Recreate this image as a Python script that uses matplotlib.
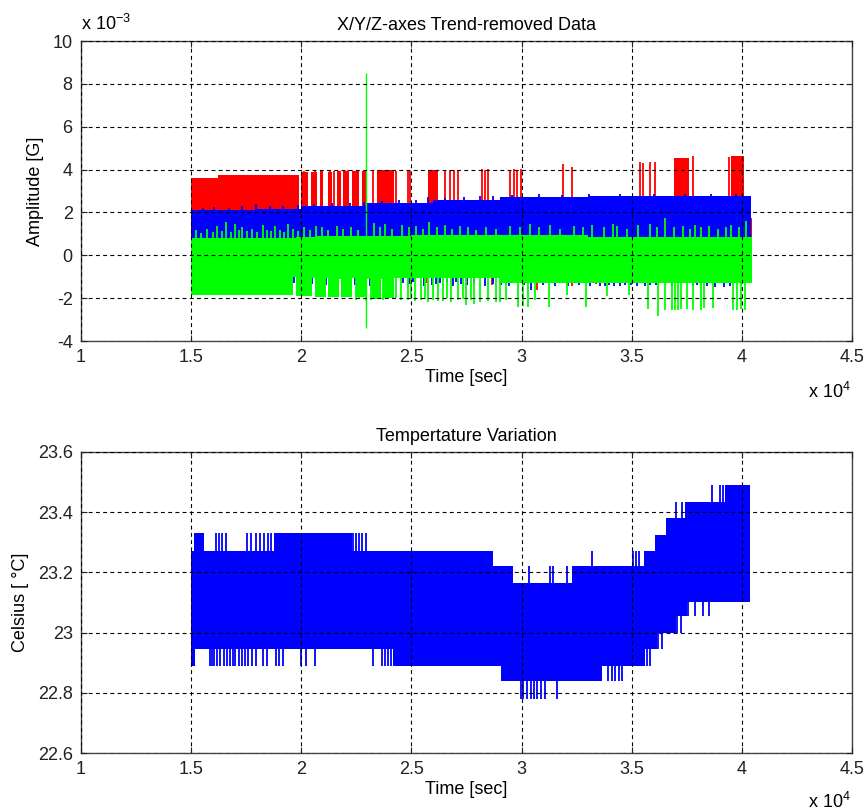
import numpy as np
import matplotlib.pyplot as plt

plt.rcParams['font.family'] = ['Liberation Sans', 'DejaVu Sans']
plt.rcParams['mathtext.default'] = 'regular'

# time in units of 1e4 sec, amplitude in units of 1e-3 G

# X axis (red) dense band: step edges and levels
x_edges = [1.50, 1.62, 1.99, 2.00, 2.03, 2.045, 2.07, 2.085, 2.10, 2.12, 2.14,
           2.16, 2.18, 2.19, 2.215, 2.23, 2.26, 2.275, 2.30, 2.345, 2.42, 2.575,
           2.62, 3.69, 3.76, 3.95, 4.01, 4.045]
x_lo = [-1.0] * 27
x_hi = [3.62, 3.75, 1.75, 3.88, 1.75, 3.90, 1.75, 3.92, 1.75, 3.90, 1.75,
        3.93, 1.75, 3.95, 1.75, 3.95, 1.75, 3.92, 1.75, 3.97, 1.75, 4.00,
        1.75, 4.55, 1.75, 4.65, 1.75]
# red spikes above the band
x_spike_t = [2.012, 2.049, 2.062, 2.094, 2.130, 2.149, 2.167, 2.212, 2.253, 2.289,
             2.325, 2.430, 2.484, 2.494, 2.652, 2.675, 2.693, 2.711, 2.820, 2.834,
             2.848, 2.948, 2.966, 2.979, 2.997, 3.188, 3.229, 3.538, 3.551, 3.583,
             3.606, 3.778, 3.940]
x_spike_v = [3.92, 3.90, 3.95, 3.96, 3.97, 3.95, 3.93, 3.98, 3.97, 3.96,
             3.98, 3.94, 3.98, 3.95, 3.95, 3.99, 3.97, 3.94, 4.03, 3.98,
             4.02, 3.99, 4.03, 4.00, 4.05, 4.26, 4.13, 4.37, 4.33, 4.37,
             4.37, 4.64, 4.60]
# red bits below the green band
x_dspike_t = [2.494, 2.571, 2.866, 3.070, 3.229, 3.338]
x_dspike_v = [-1.35, -1.30, -1.40, -1.60, -1.45, -1.35]

# Y axis (blue)
y_edges = [1.50, 1.80, 2.00, 2.30, 2.60, 2.90, 3.30, 4.04]
y_lo = [-1.0, -1.0, -1.0, -1.0, -1.0, -1.0, -1.0]
y_hi = [2.10, 2.15, 2.30, 2.45, 2.60, 2.72, 2.78]
y_spike_t = [1.553, 1.604, 1.672, 1.731, 1.794, 1.858, 1.917, 1.985, 2.058, 2.140,
             2.221, 2.285, 2.366, 2.443, 2.521, 2.575, 2.652, 2.738, 2.811, 2.870,
             2.957, 3.079, 3.184, 3.306, 3.447, 3.601, 3.742, 3.860, 3.974]
y_spike_v = [2.20, 2.25, 2.22, 2.30, 2.40, 2.28, 2.32, 2.35, 2.40, 2.42,
             2.45, 2.50, 2.55, 2.58, 2.60, 2.70, 2.68, 2.72, 2.75, 2.75,
             2.80, 2.85, 2.82, 2.88, 2.85, 2.86, 2.84, 2.85, 2.85]
y_dspike_t = [1.967, 2.049, 2.113, 2.140, 2.158, 2.212, 2.244, 2.276, 2.312, 2.335,
              2.403, 2.416, 2.489, 2.557, 2.593, 2.629, 2.689, 2.725, 2.752, 2.784,
              2.834, 2.870, 2.906, 2.943, 2.984, 3.043, 3.097, 3.356, 3.397, 3.447,
              3.497, 3.560, 3.583, 3.778, 3.797, 3.919, 3.946, 2.461, 2.507, 2.611,
              2.661, 2.702, 2.929, 3.011, 3.152, 3.211, 3.261, 3.310, 3.378, 3.420,
              3.470, 3.524, 3.610, 3.683, 3.842, 3.880]
y_dspike_v = [-1.30, -1.35, -1.40, -1.30, -1.45, -1.35, -1.40, -1.30, -1.45, -1.35,
              -1.40, -1.30, -1.35, -1.45, -1.40, -1.30, -1.45, -1.35, -1.40, -1.30,
              -1.45, -1.35, -1.40, -1.45, -1.30, -1.60, -1.40, -1.45, -1.40, -1.45,
              -1.40, -1.45, -1.40, -1.45, -1.40, -1.50, -1.45, -1.30, -1.25, -1.35,
              -1.30, -1.25, -1.35, -1.40, -1.45, -1.45, -1.40, -1.45, -1.45, -1.45,
              -1.40, -1.45, -1.40, -1.45, -1.45, -1.50]

# Z axis (green)
z_edges = [1.50, 1.963, 1.975, 2.05, 2.06, 2.11, 2.12, 2.17, 2.18, 2.23, 2.25,
           2.30, 2.32, 2.36, 2.37, 2.42, 2.50, 2.90, 3.30, 4.045]
z_lo = [-1.85, -1.0, -1.9, -1.05, -1.95, -1.05, -1.95, -1.1, -1.95, -1.05, -1.95,
        -1.1, -2.05, -1.1, -2.0, -1.05, -1.05, -1.3, -1.3]
z_hi = [0.80, 0.80, 0.85, 0.85, 0.90, 0.90, 0.90, 0.90, 0.90, 0.90, 0.90,
        0.90, 0.90, 0.90, 0.90, 0.90, 0.95, 0.95, 0.85]
z_spike_t = [1.522, 1.545, 1.572, 1.599, 1.617, 1.640, 1.658, 1.681, 1.699, 1.717,
             1.731, 1.754, 1.776, 1.799, 1.826, 1.845, 1.863, 1.881, 1.904, 1.922,
             1.940, 1.963, 1.985, 2.012, 2.040, 2.067, 2.094, 2.121, 2.162, 2.190,
             2.226, 2.258, 2.330, 2.357, 2.380, 2.412, 2.457, 2.489, 2.520, 2.552,
             2.580, 2.616, 2.652, 2.684, 2.720, 2.757, 2.793, 2.838, 2.884, 2.946,
             2.993, 3.036, 3.079, 3.129, 3.175, 3.238, 3.279, 3.320, 3.372, 3.416,
             3.434, 3.479, 3.529, 3.583, 3.615, 3.651, 3.692, 3.733, 3.765, 3.787,
             3.815, 3.851, 3.892, 3.928, 3.951, 3.987, 4.019]
z_spike_v = [1.20, 1.05, 1.25, 1.10, 1.35, 1.15, 1.55, 1.10, 1.45, 1.20,
             1.30, 1.15, 1.25, 1.10, 1.40, 1.20, 1.15, 1.35, 1.20, 1.10,
             1.45, 1.25, 1.15, 1.30, 1.20, 1.35, 1.30, 1.20, 1.35, 1.25,
             1.30, 1.20, 1.50, 1.30, 1.45, 1.25, 1.40, 1.30, 1.35, 1.25,
             1.55, 1.30, 1.40, 1.25, 1.35, 1.30, 1.20, 1.30, 1.25, 1.35,
             1.30, 1.45, 1.30, 1.40, 1.25, 1.35, 1.30, 1.40, 1.30, 1.45,
             1.35, 1.25, 1.40, 1.45, 1.30, 1.75, 1.30, 1.35, 1.25, 1.40,
             1.30, 1.35, 1.25, 1.30, 1.40, 1.30, 1.60]
z_dspike_t = [2.248, 2.262, 2.294, 2.317, 2.339, 2.371, 2.484, 2.498, 2.516, 2.543,
              2.575, 2.598, 2.643, 2.679, 2.711, 2.747, 2.784, 2.811, 2.848, 2.884,
              2.929, 2.984, 3.006, 3.029, 3.124, 3.292, 3.574, 3.619, 3.651, 3.683,
              3.697, 3.710, 3.724, 3.751, 3.778, 3.815, 3.829, 3.869, 3.960, 3.978,
              3.996, 4.015, 2.430, 2.452, 2.561, 2.620, 2.661, 2.733, 2.770, 2.902,
              3.061, 3.206, 3.388, 3.488]
z_dspike_v = [-2.10, -2.05, -2.15, -2.10, -2.05, -2.10, -2.10, -2.05, -2.15, -2.10,
              -2.20, -2.10, -2.15, -2.20, -2.10, -2.30, -2.25, -2.20, -2.15, -2.20,
              -2.10, -2.40, -2.35, -2.40, -2.40, -2.40, -2.50, -2.85, -2.55, -2.55,
              -2.55, -2.55, -2.50, -2.50, -2.55, -2.55, -2.45, -2.45, -2.55, -2.55,
              -2.50, -2.55, -2.00, -2.10, -2.05, -2.15, -2.00, -2.05, -2.10, -2.20,
              -2.10, -1.85, -1.90, -1.85]
z_jump_t = 2.294
z_jump_lo, z_jump_hi = -3.4, 8.5

# temperature (Celsius)
temp_edges = [1.50, 1.513, 1.558, 1.876, 2.23, 2.87, 2.96, 3.23, 3.556, 3.606,
              3.656, 3.742, 3.924, 4.037]
temp_hi = [23.27, 23.33, 23.27, 23.33, 23.27, 23.22, 23.165, 23.22, 23.27, 23.325,
           23.38, 23.435, 23.49]
temp_lo_edges = [1.50, 1.517, 2.416, 2.906, 3.365, 3.560, 3.614, 3.701, 3.751, 4.037]
temp_lo = [22.89, 22.945, 22.89, 22.84, 22.89, 22.945, 23.0, 23.055, 23.11]
temp_up_t = [1.613, 1.626, 1.640, 1.658, 1.754, 1.772, 1.794, 1.813, 1.831, 1.849,
             1.863, 2.235, 2.248, 2.262, 2.276, 2.294, 3.034, 3.129, 3.143, 3.206,
             3.320, 3.506, 3.519, 3.533, 3.701, 3.728, 3.865, 3.901, 3.914]
temp_up_v = [23.33, 23.33, 23.33, 23.33, 23.33, 23.33, 23.33, 23.33, 23.33, 23.33,
             23.33, 23.33, 23.33, 23.33, 23.33, 23.33, 23.22, 23.22, 23.22, 23.22,
             23.27, 23.27, 23.27, 23.27, 23.435, 23.435, 23.49, 23.49, 23.49]
temp_dn_t = [1.586, 1.595, 1.604, 1.617, 1.631, 1.649, 1.663, 1.676, 1.690, 1.699,
             1.717, 1.731, 1.744, 1.758, 1.776, 1.794, 1.826, 1.844, 1.885, 1.899,
             1.917, 1.999, 2.021, 2.062, 2.326, 2.366, 2.380, 2.394, 2.407,
             2.997, 3.006, 3.025, 3.043, 3.056, 3.070, 3.088, 3.106, 3.161,
             3.392, 3.411, 3.424, 3.442, 3.456, 3.569, 3.583, 3.619, 3.637,
             3.706, 3.724, 3.756, 3.787, 3.824, 3.851]
temp_dn_v = [22.89] * 29 + [22.78] * 9 + [22.84] * 5 + [22.89, 22.89, 22.945, 22.945,
             23.0, 23.0, 23.055, 23.055, 23.055, 23.055]

xticks = [1, 1.5, 2, 2.5, 3, 3.5, 4, 4.5]
xticklabels = ['1', '1.5', '2', '2.5', '3', '3.5', '4', '4.5']
amp_ticks = [-4, -2, 0, 2, 4, 6, 8, 10]
temp_ticks = [22.6, 22.8, 23.0, 23.2, 23.4, 23.6]
temp_ticklabels = ['22.6', '22.8', '23', '23.2', '23.4', '23.6']


def band(ax, edges, lo, hi, color, z):
    lo = list(lo) + [lo[-1]]
    hi = list(hi) + [hi[-1]]
    ax.fill_between(edges, lo, hi, step='post', color=color, lw=0, zorder=z)


def spikes(ax, t, v, base, color, z):
    ax.vlines(t, base, v, color=color, lw=1.3, zorder=z)


def style(ax):
    ax.set_xlim(1, 4.5)
    ax.set_xticks(xticks)
    ax.set_xticklabels(xticklabels)
    ax.grid(True, color='black', linestyle=(0, (3.5, 3)), lw=0.8)
    ax.set_axisbelow(False)
    ax.tick_params(direction='in', length=4, top=True, right=True,
                   labelsize=13, colors='#222222', pad=6)
    for s in ax.spines.values():
        s.set_color('#444444')
        s.set_linewidth(1.0)


fig = plt.figure(figsize=(8.66, 8.11), dpi=100)
ax1 = fig.add_axes([81 / 866, 470 / 811, 771 / 866, 300 / 811])
ax2 = fig.add_axes([81 / 866, 58 / 811, 771 / 866, 301 / 811])

red, blue, green = '#ff0000', '#0000ff', '#00ff00'
band(ax1, x_edges, x_lo, x_hi, red, 1.0)
spikes(ax1, x_spike_t, x_spike_v, 0, red, 1.1)
spikes(ax1, x_dspike_t, x_dspike_v, 0, red, 1.1)
band(ax1, y_edges, y_lo, y_hi, blue, 1.2)
spikes(ax1, y_spike_t, y_spike_v, 0, blue, 1.3)
spikes(ax1, y_dspike_t, y_dspike_v, 0, blue, 1.3)
band(ax1, z_edges, z_lo, z_hi, green, 1.4)
spikes(ax1, z_spike_t, z_spike_v, 0, green, 1.5)
spikes(ax1, z_dspike_t, z_dspike_v, 0, green, 1.5)
ax1.vlines([z_jump_t], z_jump_lo, z_jump_hi, color=green, lw=1.0, zorder=1.5)

style(ax1)
ax1.set_ylim(-4, 10)
ax1.set_yticks(amp_ticks)
ax1.set_yticklabels([str(v) for v in amp_ticks])
ax1.set_title('X/Y/Z-axes Trend-removed Data', fontsize=13, pad=8)
ax1.set_xlabel('Time [sec]', fontsize=13, labelpad=2)
ax1.set_ylabel('Amplitude [G]', fontsize=13, labelpad=6)
fig.text(81 / 866, 1 - 30 / 811, 'x 10$^{-3}$', fontsize=13)
fig.text(808 / 866, 1 - 398 / 811, 'x 10$^{4}$', fontsize=13)

# temperature band
lo_full = list(temp_lo) + [temp_lo[-1]]
hi_full = list(temp_hi) + [temp_hi[-1]]
ax2.fill_between(temp_edges, 23.1, hi_full, step='post', color=blue, lw=0)
ax2.fill_between(temp_lo_edges, lo_full, 23.1, step='post', color=blue, lw=0)
spikes(ax2, temp_up_t, temp_up_v, 23.1, blue, 1.1)
spikes(ax2, temp_dn_t, temp_dn_v, 23.1, blue, 1.1)

style(ax2)
ax2.set_ylim(22.6, 23.6)
ax2.set_yticks(temp_ticks)
ax2.set_yticklabels(temp_ticklabels)
ax2.set_title('Tempertature Variation', fontsize=13, pad=8)
ax2.set_xlabel('Time [sec]', fontsize=13, labelpad=2)
ax2.set_ylabel('Celsius [ °C]', fontsize=13, labelpad=6)
fig.text(808 / 866, 1 - 808 / 811, 'x 10$^{4}$', fontsize=13)

fig.savefig('out.png', dpi=100)
